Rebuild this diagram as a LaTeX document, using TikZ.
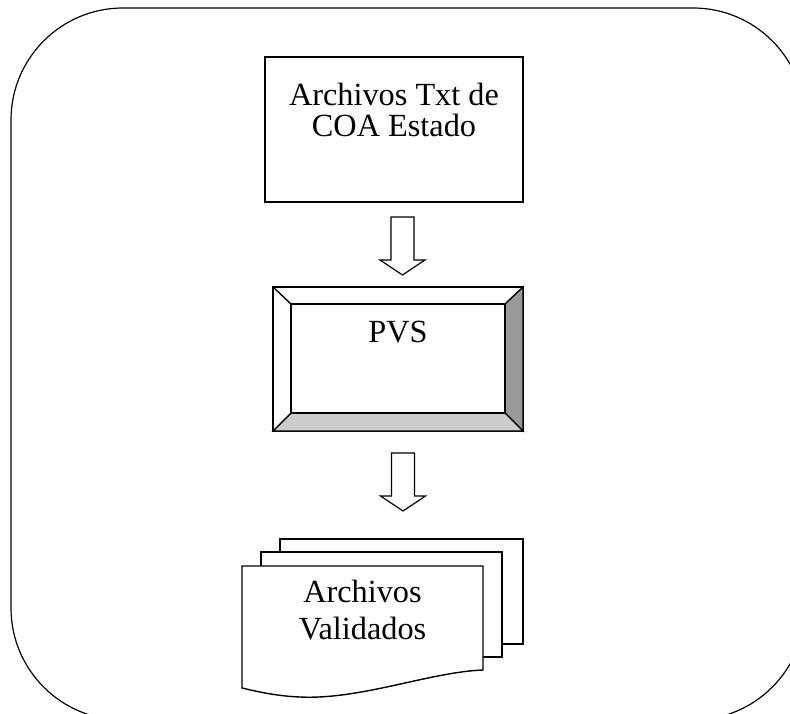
\documentclass[tikz,border=0pt]{standalone}
\usepackage{fontspec}
\setmainfont{Liberation Serif}
\usepackage{tikz}
\usetikzlibrary{calc}
\tikzstyle{boxline}=[draw, line width=1.4pt, inner sep=0pt, outer sep=0pt, fill=white]
\tikzstyle{lightbevel}=[fill=black!20, draw, line width=1.4pt]
\tikzstyle{darkbevel}=[fill=black!40, draw, line width=1.4pt]
\newcommand{\boxtext}[5]{\parbox[c][#2pt][t]{#1pt}{\centering\baselineskip=#4pt\vspace*{#3pt}#5}}
\newcommand{\blockarrow}[1]{
 \draw[line width=1.2pt, fill=white] ($ #1 + (-11.5,0) $) -- ($ #1 + (11.5,0) $) -- ($ #1 + (11.5,43) $) -- ($ #1 + (22.5,43) $) -- ($ #1 + (0,58) $) -- ($ #1 + (-22.5,43) $) -- ($ #1 + (-11.5,43) $) -- cycle;
}

\begin{document}
\begin{tikzpicture}[x=1pt, y=-1pt, font=\fontsize{32.3}{35}\selectfont]
 \useasboundingbox (0,0) rectangle (790,713);
 \draw[line width=1.2pt, rounded corners=112pt] (11,8) rectangle (805,720);
%
 \node[boxline] (coa) at (394,129.5) {\boxtext{258}{145}{26}{31.5}{Archivos Txt de\\COA Estado}};
%
 \coordinate (arrA) at ($ (coa.south) + (8.5,15) $);
 \blockarrow{(arrA)}
%
 \node[boxline, minimum width=250, minimum height=144] (pvs) at (398,359) {};
 \node[inner sep=0pt, outer sep=0pt, minimum width=214, minimum height=109] (pvsin) at (398,358.5) {};
 \draw[darkbevel] (pvs.north east) -- (pvs.south east) -- (pvsin.south east) -- (pvsin.north east) -- cycle;
 \draw[lightbevel] (pvs.south west) -- (pvs.south east) -- (pvsin.south east) -- (pvsin.south west) -- cycle;
 \draw[line width=1.4pt] (pvs.north west) -- (pvsin.north west);
 \node[boxline] (pvstxt) at (pvsin) {\boxtext{214}{109}{17.5}{34}{PVS}};
%
 \coordinate (arrB) at ($ (pvs.south) + (5,22) $);
 \blockarrow{(arrB)}
%
 \node[boxline, minimum width=243, minimum height=105] (docc) at (401.5,591.5) {};
 \node[boxline, minimum width=241, minimum height=105] (docb) at (381.5,604.5) {};
 \draw[line width=1.4pt, fill=white] (242,566) -- (483,566) -- (483,670) .. controls (430,672) and (360,700) .. (300,697) .. controls (275,696) and (255,691) .. (242,688) -- cycle;
 \node[inner sep=0pt, anchor=north] (doca) at (362.5,566) {\boxtext{241}{100}{14}{37}{Archivos\\Validados}};
\end{tikzpicture}
\end{document}
